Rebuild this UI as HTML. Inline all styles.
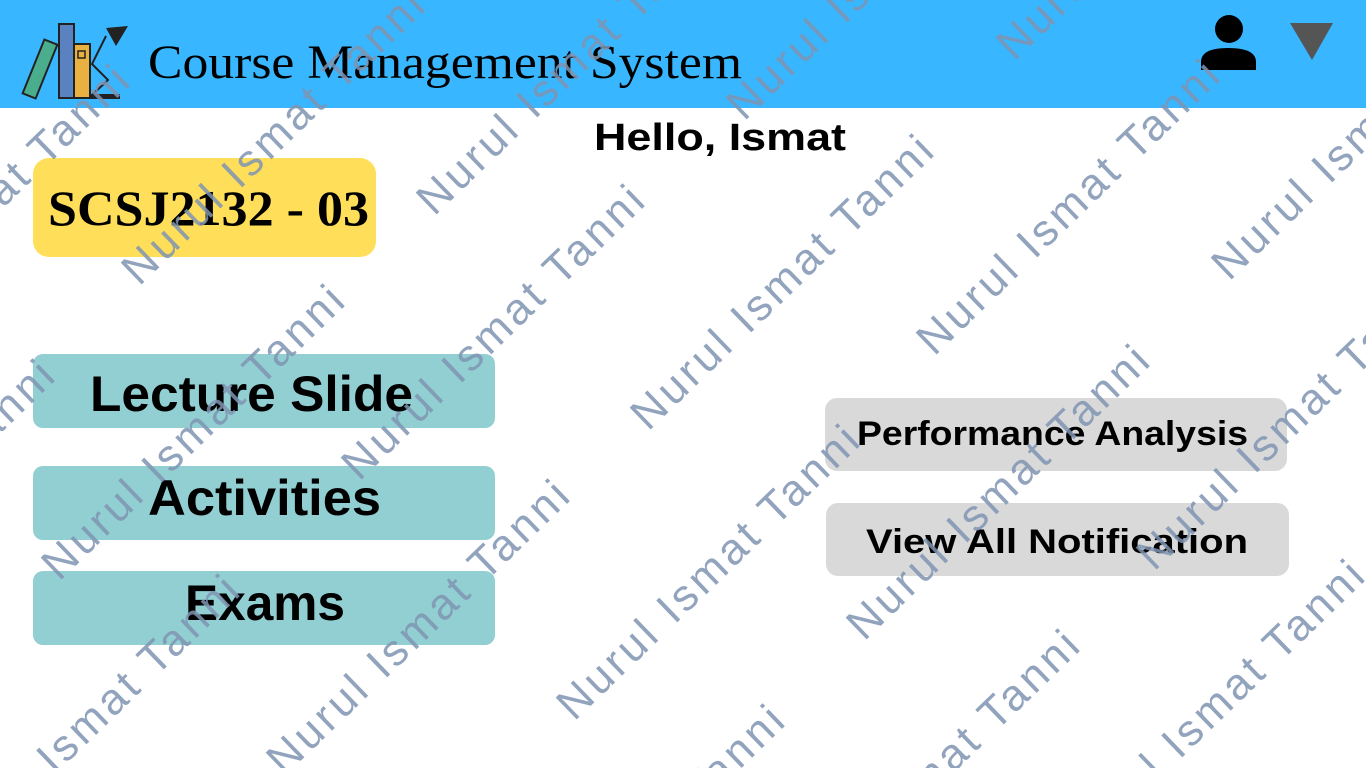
<!DOCTYPE html>
<html><head><meta charset="utf-8"><style>
html,body{margin:0;padding:0;width:1366px;height:768px;overflow:hidden;background:#fff}
svg{display:block;overflow:hidden}
</style></head><body>
<svg width="1366" height="768" viewBox="0 0 1366 768" xmlns="http://www.w3.org/2000/svg">
<rect x="0" y="0" width="1366" height="108" fill="#38b6ff"/>
<g stroke="#222" stroke-width="2">
<rect x="33" y="40" width="14" height="58" fill="#4aae8c" transform="rotate(22 40 69)"/>
<rect x="59" y="24" width="15" height="74" fill="#5b82c0"/>
<rect x="74" y="44" width="16" height="54" fill="#e9b142"/>
<rect x="78" y="51" width="7" height="7" fill="none" stroke-width="1.5"/>
</g>
<rect x="90" y="94" width="30" height="5" fill="#222"/>
<path d="M92 95 L108 80 L92 64 L106 36" stroke="#222" stroke-width="2" fill="none"/>
<path d="M106 28 L128 26 L116 46 Z" fill="#222"/>
<text x="148" y="78" font-family="Liberation Serif,serif" font-size="48" textLength="594" lengthAdjust="spacingAndGlyphs">Course Management System</text>
<circle cx="1229" cy="29" r="14" fill="#000"/>
<path d="M1201 70 L1201 62 Q1201 48 1228 48 Q1256 48 1256 62 L1256 70 Z" fill="#000"/>
<path d="M1290 23 L1333 23 L1312 60 Z" fill="#555"/>
<text x="720" y="150" text-anchor="middle" font-family="Liberation Sans,sans-serif" font-weight="bold" font-size="38" textLength="252" lengthAdjust="spacingAndGlyphs">Hello, Ismat</text>
<rect x="33" y="158" width="343" height="99" rx="16" fill="#ffde59"/>
<text x="48" y="225" font-family="Liberation Serif,serif" font-weight="bold" font-size="50" textLength="321" lengthAdjust="spacingAndGlyphs">SCSJ2132 - 03</text>
<g fill="#91cfd2">
<rect x="33" y="354" width="462" height="74" rx="10"/>
<rect x="33" y="466" width="462" height="74" rx="10"/>
<rect x="33" y="571" width="462" height="74" rx="10"/>
</g>
<g font-family="Liberation Sans,sans-serif" font-weight="bold" fill="#000">
<text x="90" y="411" font-size="50" textLength="323" lengthAdjust="spacingAndGlyphs">Lecture Slide</text>
<text x="148" y="515" font-size="50" textLength="233" lengthAdjust="spacingAndGlyphs">Activities</text>
<text x="185" y="620" font-size="50" textLength="160" lengthAdjust="spacingAndGlyphs">Exams</text>
</g>
<g fill="#d9d9d9">
<rect x="825" y="398" width="462" height="73" rx="12"/>
<rect x="826" y="503" width="463" height="73" rx="12"/>
</g>
<g font-family="Liberation Sans,sans-serif" font-weight="bold" fill="#000" font-size="34">
<text x="857" y="445" textLength="391" lengthAdjust="spacingAndGlyphs">Performance Analysis</text>
<text x="866" y="553" textLength="382" lengthAdjust="spacingAndGlyphs">View All Notification</text>
</g>
<g transform="translate(13,3)" font-family="Liberation Sans,sans-serif" font-size="44" fill="#7f94b2" fill-opacity="0.85" text-anchor="middle">
<text transform="translate(270,145) rotate(-44)" textLength="400" lengthAdjust="spacing">Nurul Ismat Tanni</text>
<text transform="translate(565,75) rotate(-44)" textLength="400" lengthAdjust="spacing">Nurul Ismat Tanni</text>
<text transform="translate(875,-20) rotate(-44)" textLength="400" lengthAdjust="spacing">Nurul Ismat Tanni</text>
<text transform="translate(779,290) rotate(-44)" textLength="400" lengthAdjust="spacing">Nurul Ismat Tanni</text>
<text transform="translate(1065,215) rotate(-44)" textLength="400" lengthAdjust="spacing">Nurul Ismat Tanni</text>
<text transform="translate(1360,140) rotate(-44)" textLength="400" lengthAdjust="spacing">Nurul Ismat Tanni</text>
<text transform="translate(1145,-80) rotate(-44)" textLength="400" lengthAdjust="spacing">Nurul Ismat Tanni</text>
<text transform="translate(-25,220) rotate(-44)" textLength="400" lengthAdjust="spacing">Nurul Ismat Tanni</text>
<text transform="translate(190,440) rotate(-44)" textLength="400" lengthAdjust="spacing">Nurul Ismat Tanni</text>
<text transform="translate(-100,515) rotate(-44)" textLength="400" lengthAdjust="spacing">Nurul Ismat Tanni</text>
<text transform="translate(490,340) rotate(-44)" textLength="400" lengthAdjust="spacing">Nurul Ismat Tanni</text>
<text transform="translate(705,580) rotate(-44)" textLength="400" lengthAdjust="spacing">Nurul Ismat Tanni</text>
<text transform="translate(995,500) rotate(-44)" textLength="400" lengthAdjust="spacing">Nurul Ismat Tanni</text>
<text transform="translate(1285,430) rotate(-44)" textLength="400" lengthAdjust="spacing">Nurul Ismat Tanni</text>
<text transform="translate(415,635) rotate(-44)" textLength="400" lengthAdjust="spacing">Nurul Ismat Tanni</text>
<text transform="translate(85,730) rotate(-44)" textLength="400" lengthAdjust="spacing">Nurul Ismat Tanni</text>
<text transform="translate(630,860) rotate(-44)" textLength="400" lengthAdjust="spacing">Nurul Ismat Tanni</text>
<text transform="translate(925,785) rotate(-44)" textLength="400" lengthAdjust="spacing">Nurul Ismat Tanni</text>
<text transform="translate(1210,715) rotate(-44)" textLength="400" lengthAdjust="spacing">Nurul Ismat Tanni</text>
</g>
</svg>
</body></html>
